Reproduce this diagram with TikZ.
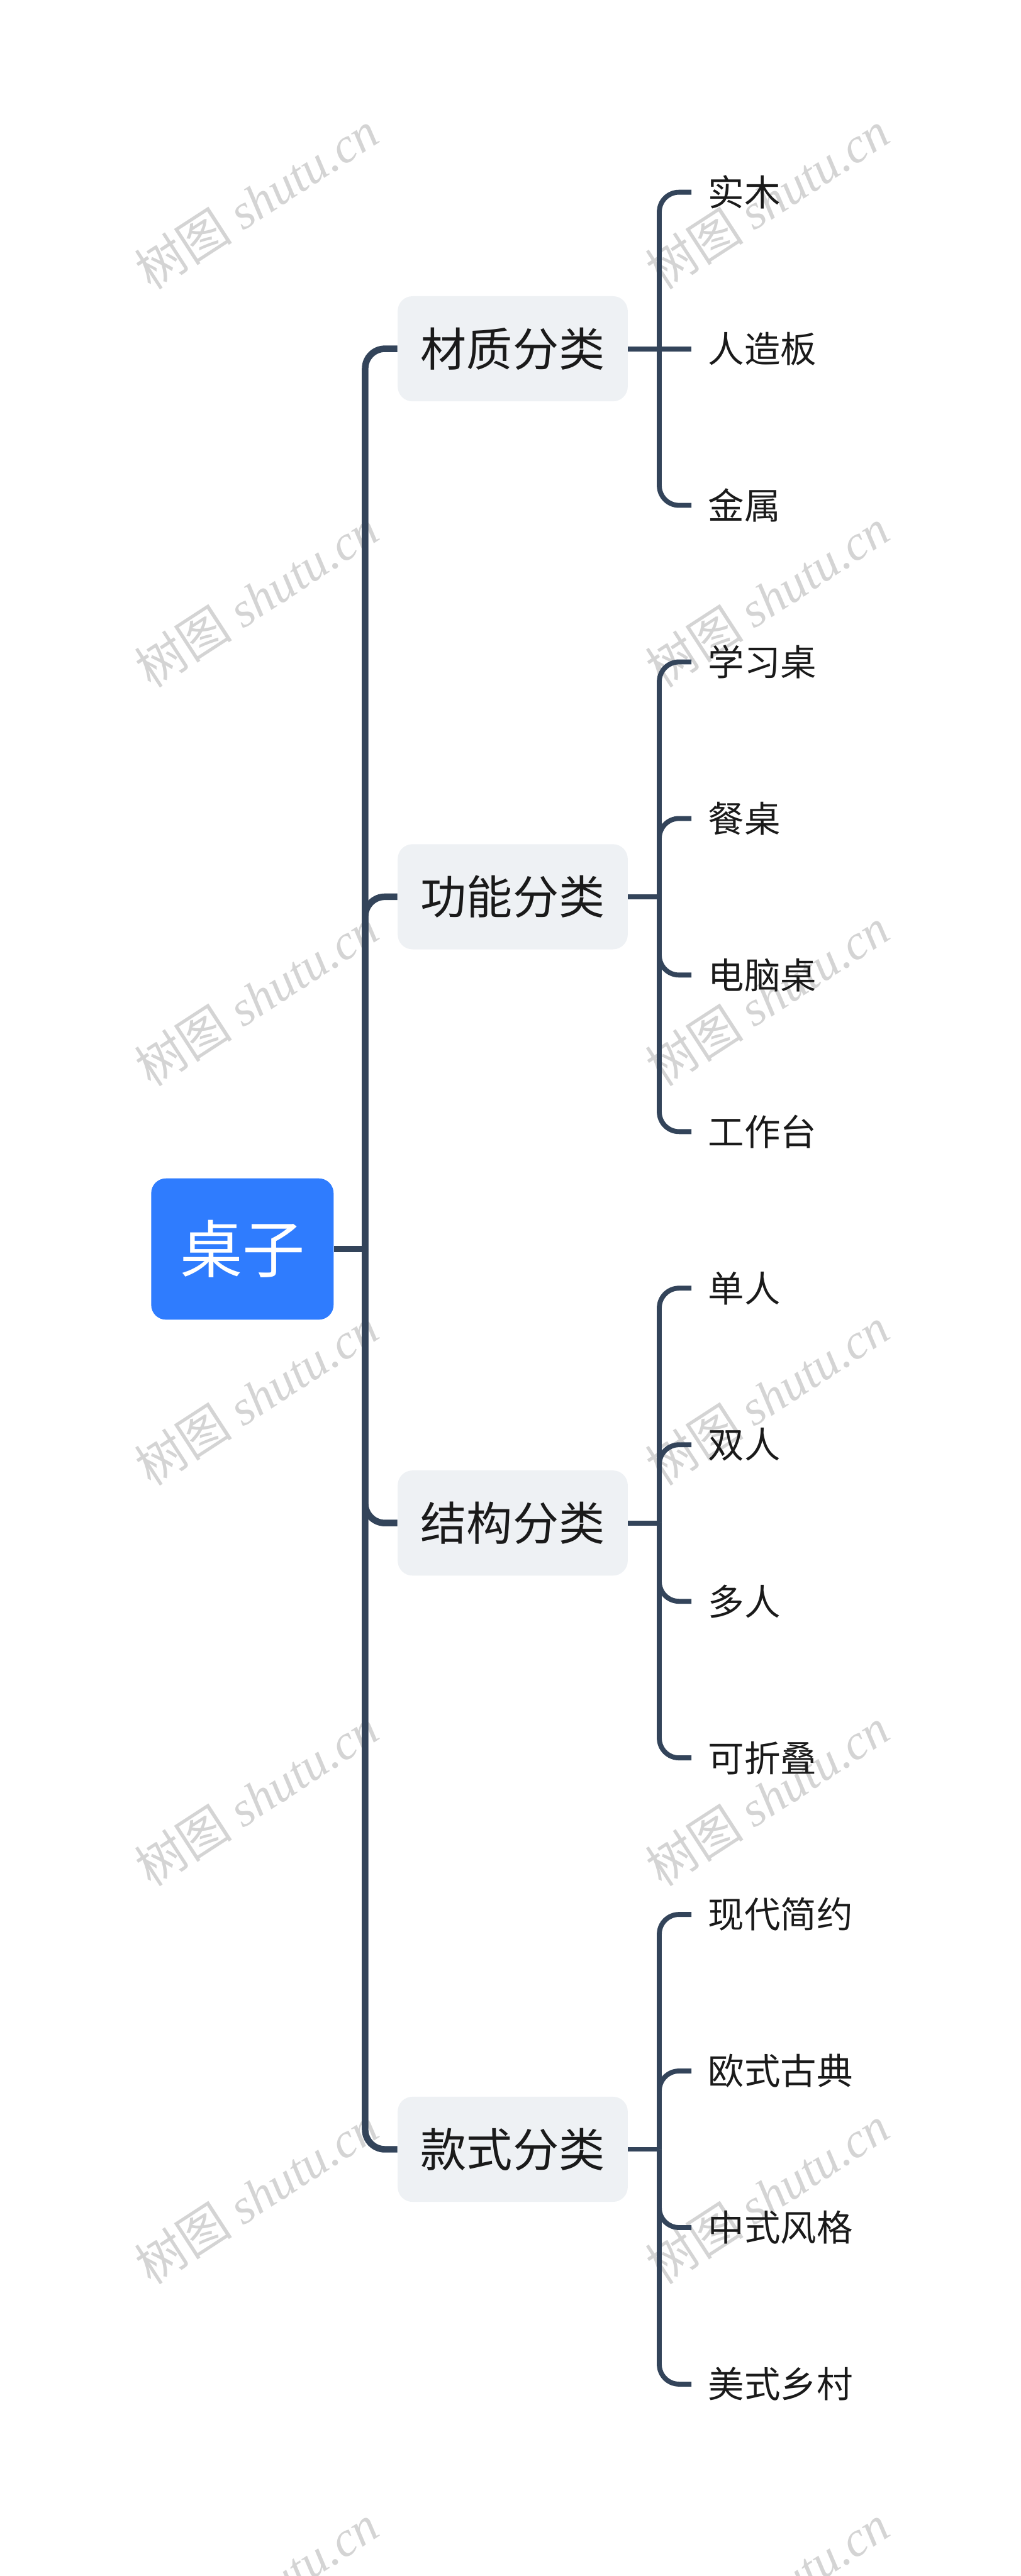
\documentclass[tikz,border=0pt]{standalone}
\usepackage{fontspec}
\setmainfont{Noto Sans CJK SC}
\newfontfamily\wmlatin{Liberation Serif}
\usepackage{xcolor}
\usetikzlibrary{positioning, calc}
\definecolor{rootblue}{HTML}{2F7CFE}
\definecolor{catgray}{HTML}{EEF1F4}
\definecolor{linkcol}{HTML}{33445A}
\definecolor{inkcol}{HTML}{1A1A1A}
\definecolor{markgray}{HTML}{D4D4D4}

\begin{document}
\begin{tikzpicture}[
            node distance=95.3pt,
            rootbox/.style={rectangle, fill=rootblue, rounded corners=9pt, minimum width=111pt, minimum height=86pt, inner sep=0pt, text=white, font=\fontsize{38}{40}\selectfont},
            catbox/.style={rectangle, fill=catgray, rounded corners=9pt, minimum width=140pt, minimum height=64pt, inner sep=0pt, text=inkcol, font=\fontsize{28}{30}\selectfont},
            leaf/.style={rectangle, inner xsep=10pt, inner ysep=0pt, text width=90pt, align=left, text=inkcol, font=\fontsize{22}{24}\selectfont},
            trunk/.style={draw=linkcol, line width=4pt},
            twig/.style={draw=linkcol, line width=3pt},
            wmark/.style={text=markgray, rotate=33, inner sep=0pt, font=\fontsize{30}{32}\selectfont}
        ]
            \useasboundingbox (0,0) rectangle (621pt,-1568pt);

% Watermarks
            \node[wmark] (wm1) at (156pt,-122pt) {树图 {\wmlatin\itshape shutu.cn}};
            \node[wmark] (wm2) at (467pt,-122pt) {树图 {\wmlatin\itshape shutu.cn}};
            \node[wmark] (wm3) at (156pt,-364pt) {树图 {\wmlatin\itshape shutu.cn}};
            \node[wmark] (wm4) at (467pt,-364pt) {树图 {\wmlatin\itshape shutu.cn}};
            \node[wmark] (wm5) at (156pt,-607pt) {树图 {\wmlatin\itshape shutu.cn}};
            \node[wmark] (wm6) at (467pt,-607pt) {树图 {\wmlatin\itshape shutu.cn}};
            \node[wmark] (wm7) at (156pt,-850pt) {树图 {\wmlatin\itshape shutu.cn}};
            \node[wmark] (wm8) at (467pt,-850pt) {树图 {\wmlatin\itshape shutu.cn}};
            \node[wmark] (wm9) at (156pt,-1094pt) {树图 {\wmlatin\itshape shutu.cn}};
            \node[wmark] (wm10) at (467pt,-1094pt) {树图 {\wmlatin\itshape shutu.cn}};
            \node[wmark] (wm11) at (156pt,-1336pt) {树图 {\wmlatin\itshape shutu.cn}};
            \node[wmark] (wm12) at (467pt,-1336pt) {树图 {\wmlatin\itshape shutu.cn}};
            \node[wmark] (wm13) at (156pt,-1579pt) {树图 {\wmlatin\itshape shutu.cn}};
            \node[wmark] (wm14) at (467pt,-1579pt) {树图 {\wmlatin\itshape shutu.cn}};

% Leaves
            \node[leaf] (mat1) at (476pt,-117pt) {实木};
            \node[leaf, below of=mat1] (mat2) {人造板};
            \node[leaf, below of=mat2] (mat3) {金属};
            \node[leaf, below of=mat3] (fun1) {学习桌};
            \node[leaf, below of=fun1] (fun2) {餐桌};
            \node[leaf, below of=fun2] (fun3) {电脑桌};
            \node[leaf, below of=fun3] (fun4) {工作台};
            \node[leaf, below of=fun4] (str1) {单人};
            \node[leaf, below of=str1] (str2) {双人};
            \node[leaf, below of=str2] (str3) {多人};
            \node[leaf, below of=str3] (str4) {可折叠};
            \node[leaf, below of=str4] (sty1) {现代简约};
            \node[leaf, below of=sty1] (sty2) {欧式古典};
            \node[leaf, below of=sty2] (sty3) {中式风格};
            \node[leaf, below of=sty3] (sty4) {美式乡村};

% Categories and root
            \node[catbox, xshift=-164pt] (mat) at (mat2) {材质分类};
            \node[catbox, xshift=-164pt] (fun) at ($(fun2)!.5!(fun3)$) {功能分类};
            \node[catbox, xshift=-164pt] (str) at ($(str2)!.5!(str3)$) {结构分类};
            \node[catbox, xshift=-164pt] (sty) at ($(sty2)!.5!(sty3)$) {款式分类};
            \node[rootbox, xshift=-164.5pt] (root) at ($(mat)!.5!(sty)$) {桌子};

            \coordinate (root-j) at ($(root.east)+(19pt,0)$);
            \coordinate (mat-j) at ($(mat.east)+(19pt,0)$);
            \coordinate (fun-j) at ($(fun.east)+(19pt,0)$);
            \coordinate (str-j) at ($(str.east)+(19pt,0)$);
            \coordinate (sty-j) at ($(sty.east)+(19pt,0)$);

% Edges
            \draw[trunk] (root.east) -- (root-j);
            \draw[trunk, rounded corners=12pt] (root-j) |- (mat.west);
            \draw[trunk, rounded corners=12pt] (root-j) |- (fun.west);
            \draw[trunk, rounded corners=12pt] (root-j) |- (str.west);
            \draw[trunk, rounded corners=12pt] (root-j) |- (sty.west);

            \draw[twig] (mat.east) -- (mat2.west);
            \draw[twig, rounded corners=12pt] (mat-j) |- (mat1.west);
            \draw[twig, rounded corners=12pt] (mat-j) |- (mat3.west);

            \draw[twig] (fun.east) -- (fun-j);
            \draw[twig, rounded corners=12pt] (fun-j) |- (fun1.west);
            \draw[twig, rounded corners=12pt] (fun-j) |- (fun2.west);
            \draw[twig, rounded corners=12pt] (fun-j) |- (fun3.west);
            \draw[twig, rounded corners=12pt] (fun-j) |- (fun4.west);

            \draw[twig] (str.east) -- (str-j);
            \draw[twig, rounded corners=12pt] (str-j) |- (str1.west);
            \draw[twig, rounded corners=12pt] (str-j) |- (str2.west);
            \draw[twig, rounded corners=12pt] (str-j) |- (str3.west);
            \draw[twig, rounded corners=12pt] (str-j) |- (str4.west);

            \draw[twig] (sty.east) -- (sty-j);
            \draw[twig, rounded corners=12pt] (sty-j) |- (sty1.west);
            \draw[twig, rounded corners=12pt] (sty-j) |- (sty2.west);
            \draw[twig, rounded corners=12pt] (sty-j) |- (sty3.west);
            \draw[twig, rounded corners=12pt] (sty-j) |- (sty4.west);

        \end{tikzpicture}
\end{document}
